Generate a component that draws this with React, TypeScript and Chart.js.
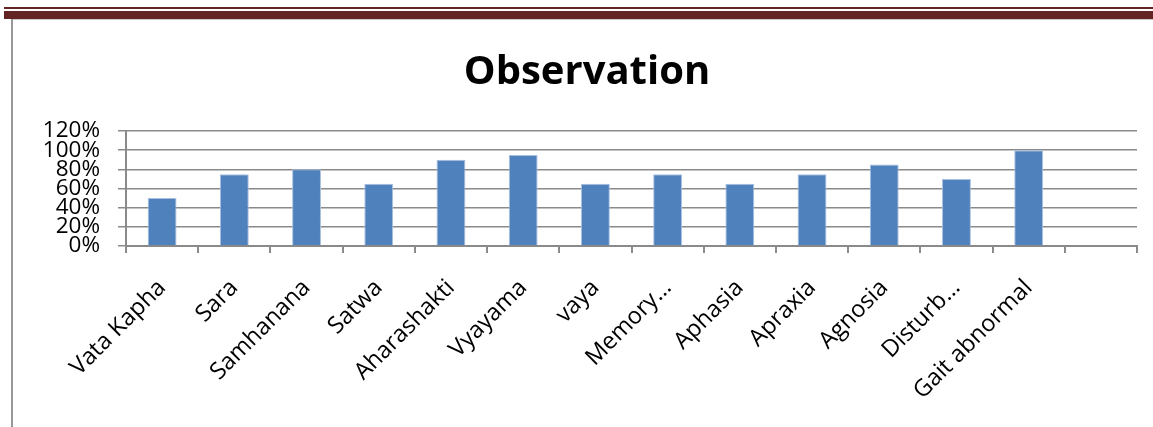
import React, { useEffect, useRef } from "react";
import { Chart, registerables } from "chart.js";

Chart.register(...registerables);

const categories: string[] = [
  "Vata Kapha",
  "Sara",
  "Samhanana",
  "Satwa",
  "Aharashakti",
  "Vyayama",
  "vaya",
  "Memory…",
  "Aphasia",
  "Apraxia",
  "Agnosia",
  "Disturb…",
  "Gait abnormal",
  "",
];

const observationValues: (number | null)[] = [50, 75, 80, 65, 90, 95, 65, 75, 65, 75, 85, 70, 100, null];

const yTickValues: number[] = [0, 20, 40, 60, 80, 100, 120];

const chartTitle = "Observation";

const FONT = "'Open Sans', 'Noto Sans', sans-serif";
const GRID = "#8a8a8a";

export default function App() {
  const canvasRef = useRef<HTMLCanvasElement | null>(null);

  useEffect(() => {
    if (!canvasRef.current) return;
    const chart = new Chart(canvasRef.current, {
      type: "bar",
      data: {
        labels: categories,
        datasets: [
          {
            label: chartTitle,
            data: observationValues,
            backgroundColor: "#4F81BD",
            borderColor: "#A9C0E0",
            borderWidth: 1,
            barPercentage: 0.4,
            categoryPercentage: 1,
          },
        ],
      },
      options: {
        responsive: false,
        animation: false,
        layout: { padding: { left: 37, right: 16, top: 0, bottom: 0 } },
        plugins: {
          legend: { display: false },
          tooltip: { enabled: false },
          title: {
            display: true,
            text: chartTitle,
            color: "#000",
            font: { family: FONT, size: 40, weight: "bold", lineHeight: 1.2 },
            padding: { top: 49, bottom: 34 },
          },
        },
        scales: {
          x: {
            grid: {
              display: true,
              drawOnChartArea: false,
              drawTicks: true,
              tickLength: 7,
              color: GRID,
              lineWidth: 2,
              offset: true,
            },
            border: { display: true, color: GRID, width: 2 },
            ticks: {
              autoSkip: false,
              maxRotation: 45,
              minRotation: 45,
              padding: 21,
              color: "#000",
              font: { family: FONT, size: 23.5 },
            },
            afterFit: (scale: any) => {
              scale.height = 181;
            },
          },
          y: {
            min: 0,
            max: 120,
            afterBuildTicks: (scale: any) => {
              scale.ticks = yTickValues.map((v) => ({ value: v }));
            },
            grid: {
              display: true,
              drawTicks: true,
              tickLength: 8,
              color: GRID,
              lineWidth: 1.5,
            },
            border: { display: true, color: GRID, width: 2 },
            ticks: {
              autoSkip: false,
              padding: 18,
              color: "#000",
              font: { family: FONT, size: 22.5, lineHeight: 1 },
              callback: (v: any) => `${v}%`,
            },
            afterFit: (scale: any) => {
              scale.width = 89;
            },
          },
        },
      },
    });
    return () => chart.destroy();
  }, []);

  return (
    <div style={{ position: "fixed", left: 0, top: 0, width: 1153, height: 427, background: "#fff", overflow: "hidden" }}>
      <div style={{ position: "absolute", left: 4, top: 7, width: 1149, height: 2, background: "#622423" }} />
      <div style={{ position: "absolute", left: 4, top: 11, width: 1149, height: 8, background: "#632523" }} />
      <div style={{ position: "absolute", left: 11, top: 19, width: 1142, height: 1, background: "#c8c8c8" }} />
      <div style={{ position: "absolute", left: 11, top: 19, width: 2, height: 408, background: "#999" }} />
      <canvas ref={canvasRef} width={1153} height={427} style={{ position: "absolute", left: 0, top: 0 }} />
    </div>
  );
}
